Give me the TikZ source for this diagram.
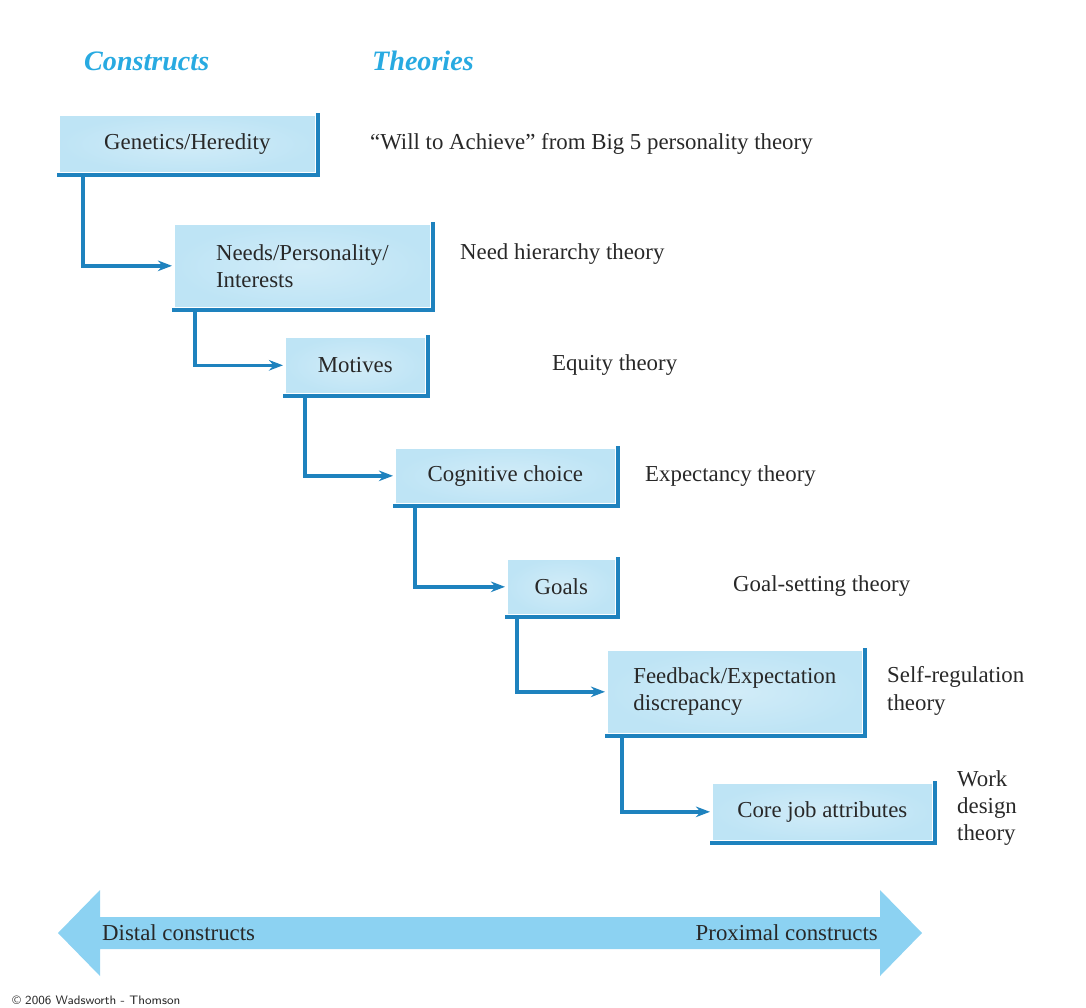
\documentclass[tikz,border=0pt]{standalone}
\usepackage{fontspec}
\setmainfont{Liberation Serif}
\usetikzlibrary{arrows.meta,calc,positioning}
\definecolor{boxblue}{RGB}{190,228,245}
\definecolor{edgeblue}{RGB}{30,130,190}
\definecolor{headblue}{RGB}{40,170,225}
\definecolor{bigblue}{RGB}{140,210,242}
\definecolor{txt}{RGB}{40,40,40}
\tikzset{
  cbox/.style={rectangle,draw=white,line width=1.5pt,inner color=white!30!boxblue,outer color=boxblue,
    text=txt,font=\fontsize{13}{15.5}\selectfont,align=left,anchor=north west,inner xsep=8pt},
  theory/.style={anchor=west,text=txt,font=\fontsize{13}{15.5}\selectfont,align=left},
  link/.style={edgeblue,line width=2pt,-{Stealth[length=8pt,width=6pt]}},
  head/.style={anchor=west,text=headblue,font=\fontsize{16}{19}\selectfont\itshape\bfseries}
}
\newcommand{\shadeedge}[1]{\draw[edgeblue,line width=2.2pt] (#1.north east) -- (#1.south east) -- (#1.south west);}
\begin{document}
\begin{tikzpicture}[x=0.02cm,y=-0.02cm]
\useasboundingbox (0,0) rectangle (1086,1008);

\node[head] (hc) at (78,61) {Constructs};
\node[head] (ht) at (366,61) {Theories};

% construct boxes
\node[cbox,minimum width=258*0.02cm,minimum height=59*0.02cm] (gen) at (57,113) {Genetics/Heredity};
\node[cbox,minimum width=258*0.02cm,minimum height=85*0.02cm] (need) at (172,222) {Needs/Personality/\\Interests};
\node[cbox,minimum width=142*0.02cm,minimum height=58*0.02cm,align=center] (mot) at (283,335) {Motives};
\node[cbox,minimum width=222*0.02cm,minimum height=57*0.02cm] (cog) at (393,446) {Cognitive choice};
\node[cbox,minimum width=110*0.02cm,minimum height=57*0.02cm,align=center] (goal) at (505,557) {Goals};
\node[cbox,minimum width=257*0.02cm,minimum height=85*0.02cm] (fb) at (605,648) {Feedback/Expectation\\discrepancy};
\node[cbox,minimum width=222*0.02cm,minimum height=59*0.02cm] (core) at (710,781) {Core job attributes};
\foreach \b in {gen,need,mot,cog,goal,fb,core} {\shadeedge{\b}}

% links
\draw[link] ($(gen.south west)+(26,0)$) |- (need.west);
\draw[link] ($(need.south west)+(23,0)$) |- (mot.west);
\draw[link] ($(mot.south west)+(22,0)$) |- (cog.west);
\draw[link] ($(cog.south west)+(22,0)$) |- (goal.west);
\draw[link] ($(goal.south west)+(12,0)$) |- (fb.west);
\draw[link] ($(fb.south west)+(17,0)$) |- (core.west);

% theories
\node[theory] (t1) at (364,144) {``Will to Achieve'' from Big 5 personality theory};
\node[theory] (t2) at (454,254) {Need hierarchy theory};
\node[theory] (t3) at (546,365) {Equity theory};
\node[theory] (t4) at (639,476) {Expectancy theory};
\node[theory] (t5) at (727,586) {Goal-setting theory};
\node[theory] (t6) at (881,691) {Self-regulation\\theory};
\node[theory] (t7) at (951,808) {Work\\design\\theory};

% distal / proximal arrow
\fill[bigblue] (58,933) -- (100,890) -- (100,917) -- (880,917) -- (880,890) -- (922,933)
  -- (880,976) -- (880,949) -- (100,949) -- (100,976) -- cycle;
\node[theory] (dist) at (96,933) {Distal constructs};
\node[theory,anchor=east] (prox) at (884,933) {Proximal constructs};

\node[anchor=west,font=\sffamily\fontsize{7}{8}\selectfont,text=txt,inner sep=0pt] (copy) at (12,1000) {\textcopyright{} 2006 Wadsworth - Thomson};
\end{tikzpicture}
\end{document}
